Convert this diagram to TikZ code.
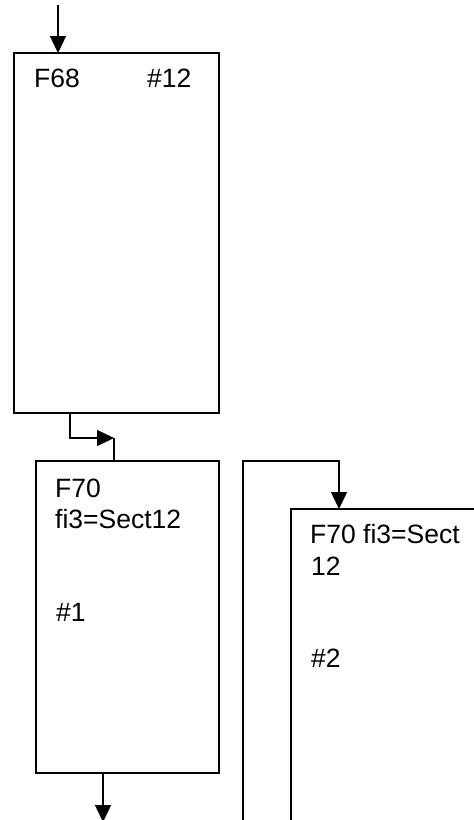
\documentclass[tikz,border=0pt]{standalone}
\usepackage{fontspec}
\setmainfont{Liberation Sans}[Ligatures=NoCommon]
\usetikzlibrary{arrows.meta}
\begin{document}
\begin{tikzpicture}[x=1pt,y=-1pt,
  box/.style={draw,line width=1.4pt,rectangle,inner sep=0pt,outer sep=0pt},
  lbl/.style={anchor=base west,inner sep=0pt,font=\fontsize{26.5}{31}\selectfont},
  conn/.style={line width=1.4pt},
  arr/.style={conn,-{Triangle[length=17pt,width=16pt]}}]
\clip (0,0) rectangle (474,820);
\fill[white] (0,0) rectangle (474,820);
% boxes
\node[box,minimum width=205pt,minimum height=360pt] (F68) at (116.5,233) {};
\node[box,minimum width=183pt,minimum height=312pt] (F70a) at (127.5,617) {};
\node[box,minimum width=229pt,minimum height=351pt] (F70b) at (405.5,684.5) {};
% texts
\node[lbl] (t1) at (34,87) {F68};
\node[lbl] (t2) at (147,87) {\#12};
\node[lbl] (t3) at (55,497) {F70};
\node[lbl] (t4) at (55,528) {fi3=Sect12};
\node[lbl] (t5) at (56,621) {\#1};
\node[lbl] (t6) at (310,543) {F70 fi3=Sect};
\node[lbl] (t7) at (311,575) {12};
\node[lbl] (t8) at (311,667) {\#2};
% connectors
\coordinate (in) at (58,5);
\draw[arr] (in) -- (in |- F68.north);
\coordinate (c1) at (114,438);
\draw[arr] ([xshift=-46.5pt]F68.south) |- (c1);
\draw[conn] (c1) -- (c1 |- F70a.north);
\coordinate (out) at (103,822);
\draw[arr] (out |- F70a.south) -- (out);
\coordinate (r0) at (243,830);
\coordinate (r1) at (339,461);
\draw[arr] (r0) |- (r1) -- (r1 |- F70b.north);
\end{tikzpicture}
\end{document}
